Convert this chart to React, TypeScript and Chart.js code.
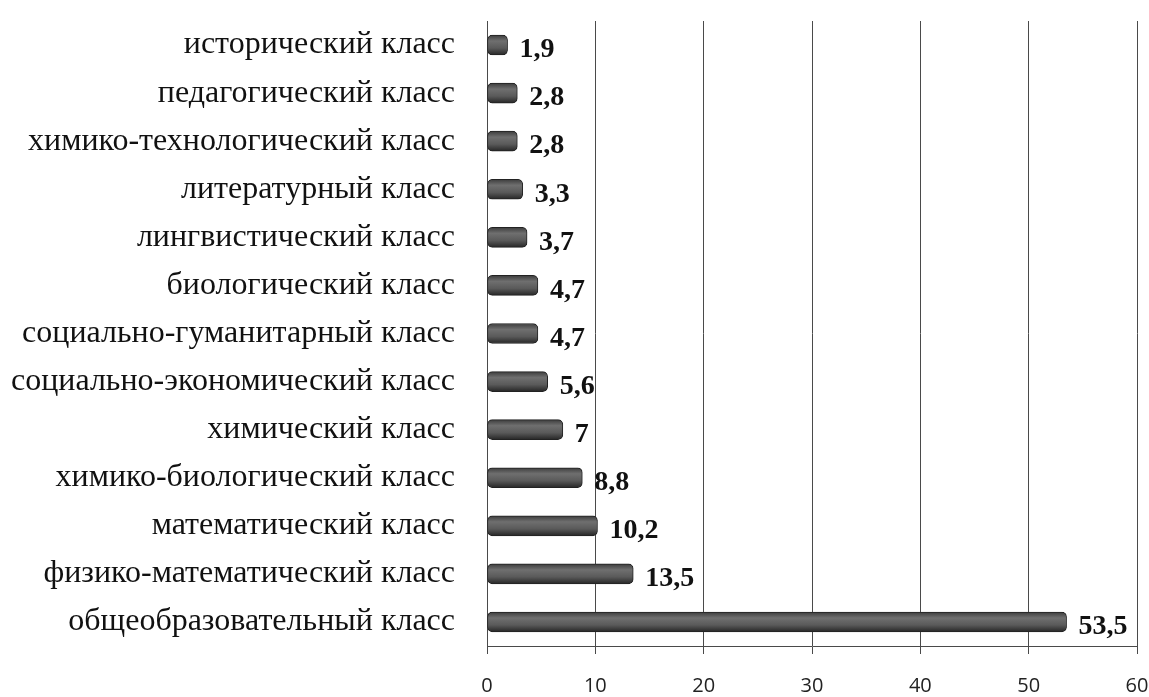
import React, { useEffect, useRef } from "react";
import { Chart, registerables } from "chart.js";

Chart.register(...registerables);

const categories: string[] = [
  "исторический класс",
  "педагогический класс",
  "химико-технологический класс",
  "литературный класс",
  "лингвистический класс",
  "биологический класс",
  "социально-гуманитарный класс",
  "социально-экономический класс",
  "химический класс",
  "химико-биологический класс",
  "математический класс",
  "физико-математический класс",
  "общеобразовательный класс",
];

const values: number[] = [1.9, 2.8, 2.8, 3.3, 3.7, 4.7, 4.7, 5.6, 7, 8.8, 10.2, 13.5, 53.5];

const xTicks: number[] = [0, 10, 20, 30, 40, 50, 60];

const fmt = (v: number) => String(v).replace(".", ",");

const BAR_H = 20;

const valueLabels = {
  id: "valueLabels",
  afterDatasetsDraw(chart: any) {
    const ctx = chart.ctx;
    const meta = chart.getDatasetMeta(0);
    ctx.save();
    ctx.font = "bold 28px 'Liberation Serif', 'Times New Roman', serif";
    ctx.fillStyle = "#111";
    ctx.textAlign = "left";
    ctx.textBaseline = "middle";
    meta.data.forEach((bar: any, i: number) => {
      ctx.fillText(fmt(values[i]), bar.x + 12, bar.y + 5);
    });
    ctx.restore();
  },
};

export default function App() {
  const ref = useRef<HTMLCanvasElement | null>(null);

  useEffect(() => {
    document.body.style.margin = "0";
    const canvas = ref.current!;
    const chart = new Chart(canvas, {
      type: "bar",
      data: {
        labels: categories,
        datasets: [
          {
            data: values,
            backgroundColor: (c: any) => {
              try {
                const sc = c.chart.scales && c.chart.scales.y;
                if (!sc || c.dataIndex === undefined) return "#585858";
                const y = sc.getPixelForValue(c.dataIndex);
                if (!isFinite(y)) return "#585858";
                const g = c.chart.ctx.createLinearGradient(0, y - BAR_H / 2, 0, y + BAR_H / 2);
                g.addColorStop(0, "#3c3c3c");
                g.addColorStop(0.3, "#6f6f6f");
                g.addColorStop(0.65, "#5a5a5a");
                g.addColorStop(1, "#262626");
                return g;
              } catch (e) {
                return "#585858";
              }
            },
            borderColor: "#222",
            borderWidth: 1,
            borderRadius: 5,
            borderSkipped: false,
            barThickness: BAR_H,
          },
        ],
      },
      options: {
        indexAxis: "y",
        animation: false,
        responsive: false,
        maintainAspectRatio: false,
        layout: { padding: { top: 21, right: 0, left: 0, bottom: 0 } },
        plugins: {
          legend: { display: false },
          tooltip: { enabled: false },
        },
        scales: {
          x: {
            min: 0,
            max: 60,
            afterBuildTicks: (axis: any) => {
              axis.ticks = xTicks.map((v) => ({ value: v }));
            },
            afterFit: (axis: any) => {
              axis.height = 51;
              axis.paddingLeft = 0;
              axis.paddingRight = 12;
            },
            grid: {
              color: "#4a4a4a",
              lineWidth: 1,
              drawTicks: true,
              tickLength: 8,
            },
            border: { display: true, color: "#4a4a4a" },
            ticks: {
              color: "#222",
              font: { family: "'Open Sans', 'Liberation Sans', sans-serif", size: 20 },
              padding: 20,
              maxRotation: 0,
            },
          },
          y: {
            afterFit: (axis: any) => {
              axis.width = 487;
              axis.paddingTop = 0;
              axis.paddingBottom = 0;
            },
            grid: { display: false },
            border: { display: true, color: "#4a4a4a" },
            ticks: {
              color: "#111",
              font: { family: "'Liberation Serif', 'Times New Roman', serif", size: 32 },
              padding: 24,
              autoSkip: false,
            },
          },
        },
      },
      plugins: [valueLabels],
    });
    return () => chart.destroy();
  }, []);

  return (
    <div style={{ width: 1149, height: 697, background: "#fff" }}>
      <canvas ref={ref} width={1149} height={697} style={{ display: "block" }} />
    </div>
  );
}
